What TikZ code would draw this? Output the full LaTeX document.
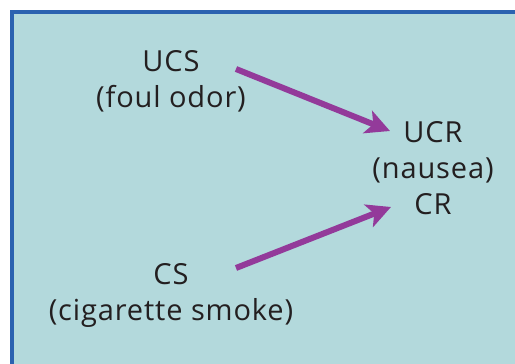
\documentclass[tikz,border=0pt]{standalone}
\usepackage{fontspec}
\setmainfont{Open Sans}[LetterSpace=3]
\usetikzlibrary{arrows.meta}
\definecolor{panelfill}{HTML}{B3D9DC}
\definecolor{panelline}{HTML}{2B62B0}
\definecolor{arrowpurple}{HTML}{933A9A}
\definecolor{txt}{HTML}{231F20}
\tikzset{
  lbl/.style={text=txt, font=\fontsize{29}{36}\selectfont, align=center, inner sep=0pt},
  link/.style={arrowpurple, line width=6pt, -{Stealth[length=24pt, width=24pt, inset=6pt]}}
}
\begin{document}
\begin{tikzpicture}[x=1pt,y=1pt]
\useasboundingbox (0,0) rectangle (515,364);
\fill[panelfill] (12,0) rectangle (515,352);
\draw[panelline, line width=4pt] (12,0) -- (12,352) -- (515,352);
\node[lbl, anchor=base] (ucs) at (171,256) {UCS\\(foul odor)};
\node[lbl, anchor=base] (ucr) at (433,149) {UCR\\(nausea)\\CR};
\node[lbl, anchor=base] (cs) at (171,43) {CS\\(cigarette smoke)};
\coordinate (a1s) at (236,295);
\coordinate (a1e) at (390,233);
\coordinate (a2s) at (236,96);
\coordinate (a2e) at (391,157);
\draw[link] (a1s) -- (a1e);
\draw[link] (a2s) -- (a2e);
\end{tikzpicture}
\end{document}
